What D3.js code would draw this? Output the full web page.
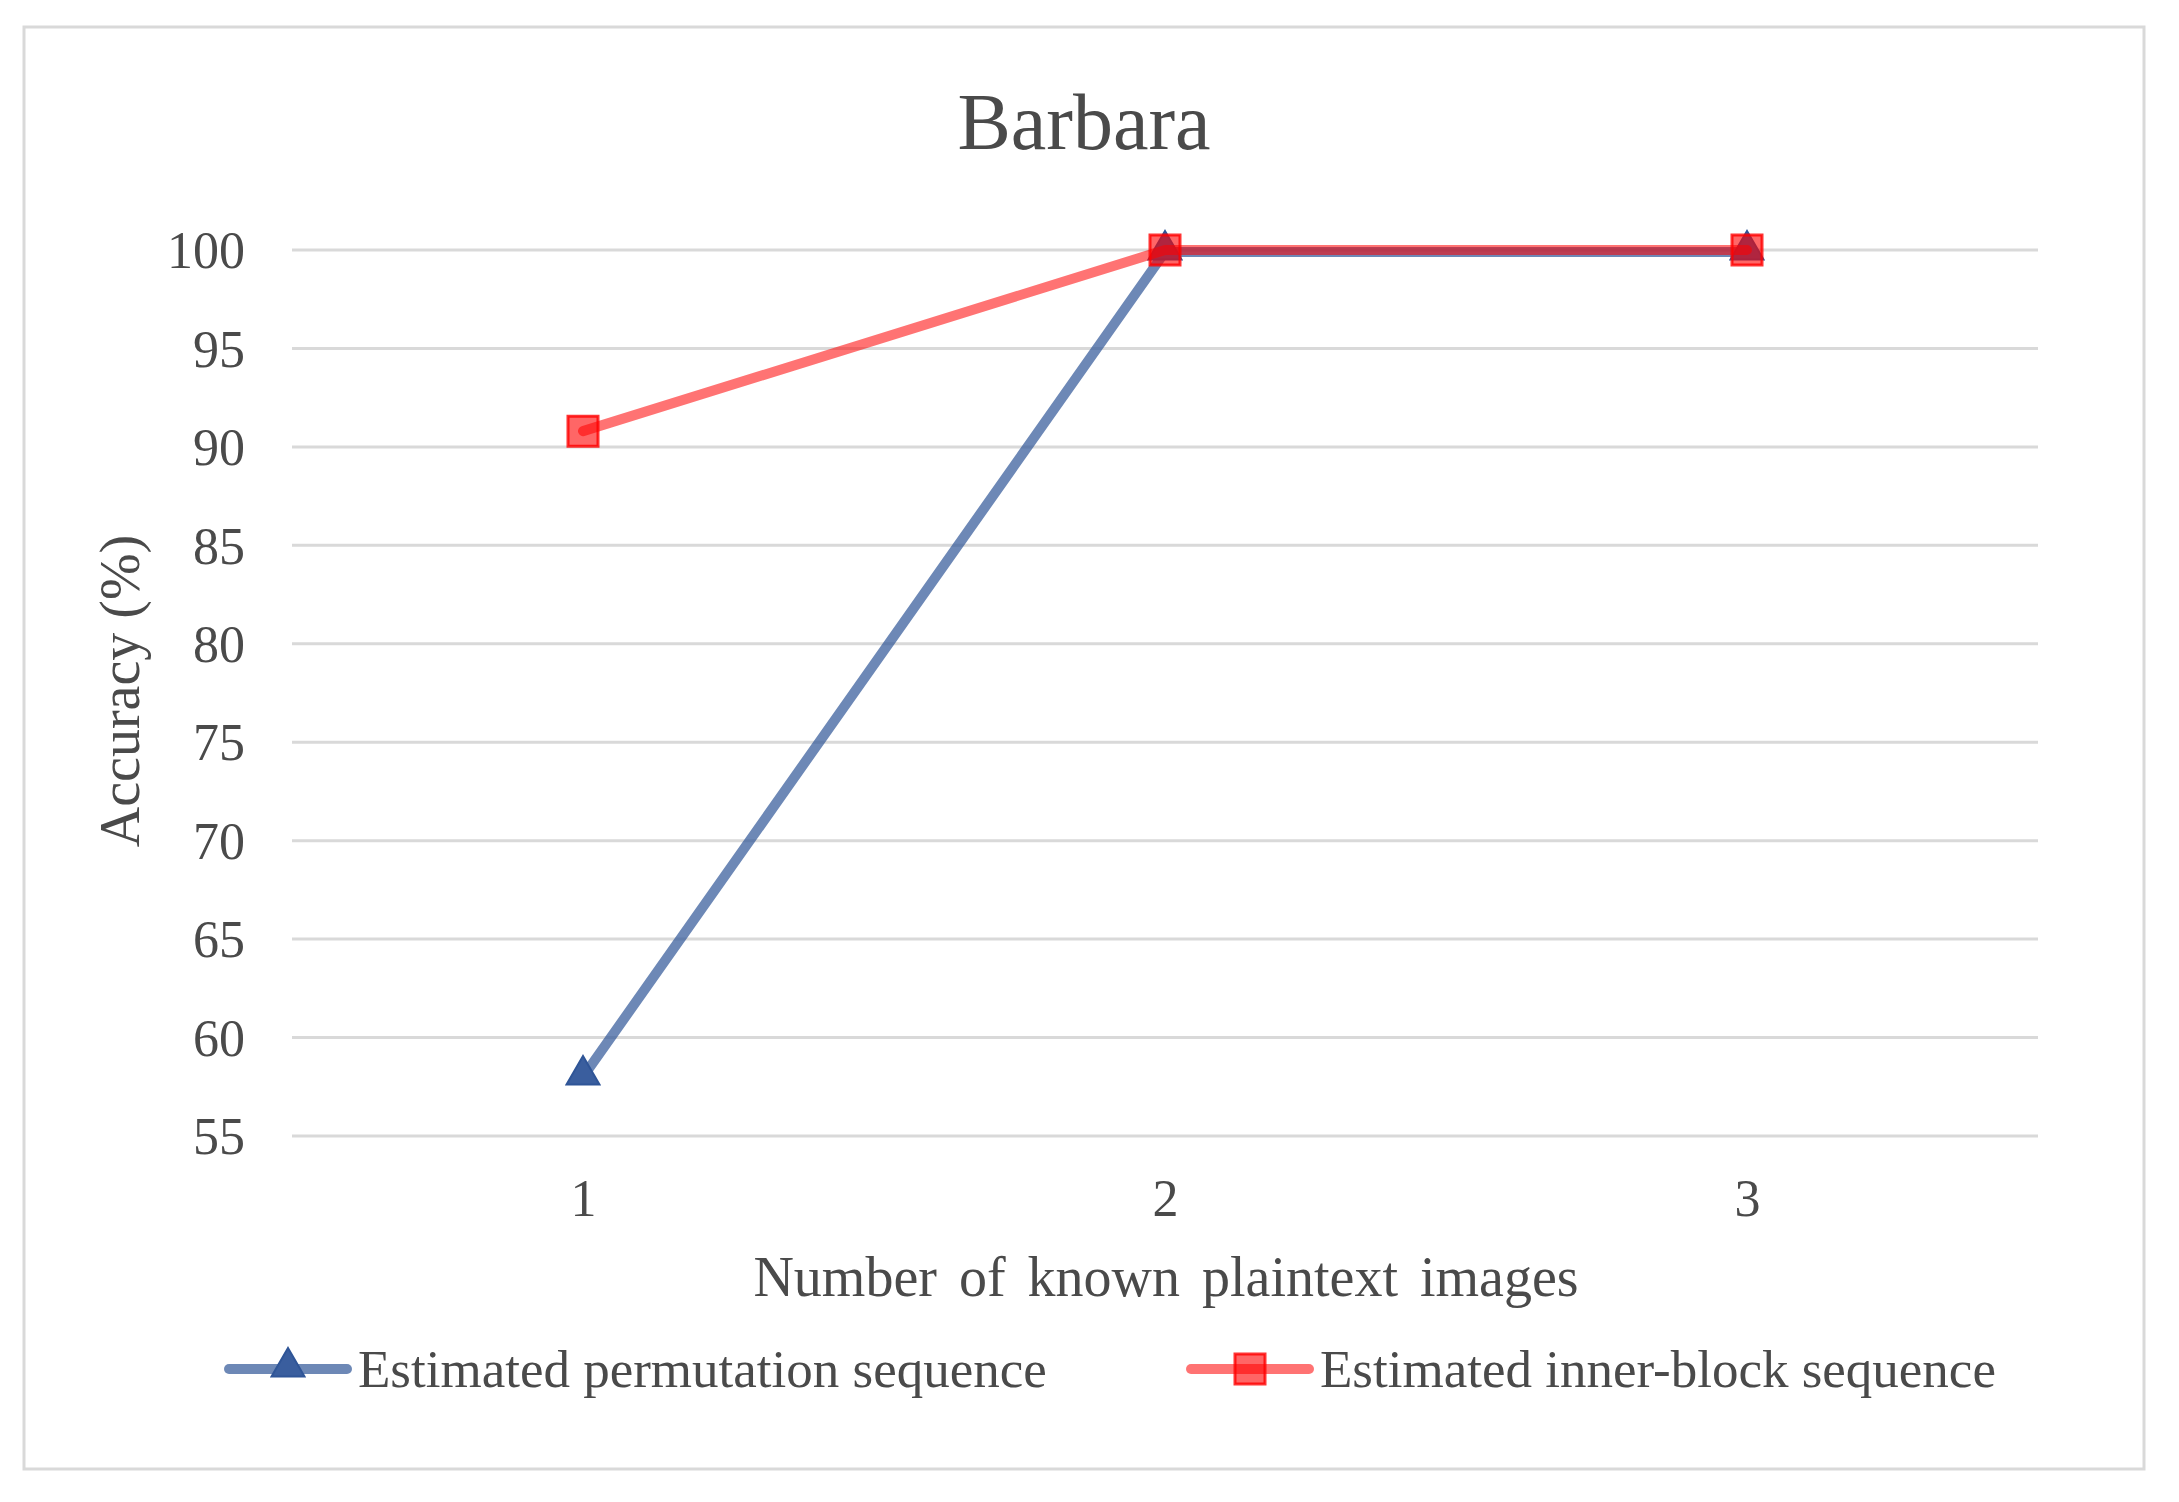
<!DOCTYPE html>
<html>
<head>
<meta charset="utf-8">
<script src="https://cdn.jsdelivr.net/npm/d3@7"></script>
<style>
  body { margin: 0; background: #fff; }
  text { font-family: "Liberation Serif", "Times New Roman", serif; fill: #4a4a4a; }
</style>
</head>
<body>
<svg id="canvas" width="2179" height="1502"></svg>
<script>
// chart data
let categories = [1, 2, 3]
let permutationSeq = [58, 99.9, 99.9]
let innerBlockSeq = [90.8, 100, 100]
let yTicks = [55, 60, 65, 70, 75, 80, 85, 90, 95, 100]
let seriesNames = ["Estimated permutation sequence", "Estimated inner-block sequence"]

let canvas = d3.select("#canvas")

let blueLine = "rgba(47,85,151,0.7)"
let blueMark = "#2f5597"
let redLine = "rgba(255,0,0,0.55)"
let redMark = "rgba(255,0,0,0.6)"
let redEdge = "rgba(255,0,0,0.8)"

// outer frame
canvas.append("rect")
    .attr("x", 24).attr("y", 27)
    .attr("width", 2120).attr("height", 1442)
    .attr("fill", "#fff")
    .attr("stroke", "#d9d9d9")
    .attr("stroke-width", 3)

let xScale = d3.scalePoint()
    .domain(categories)
    .range([292, 2038])
    .padding(0.5)

let yScale = d3.scaleLinear()
    .domain([55, 100])
    .range([1136, 250])

// gridlines
canvas.append("g")
    .selectAll("line")
    .data(yTicks)
    .enter()
    .append("line")
    .attr("x1", 292).attr("x2", 2038)
    .attr("y1", d => yScale(d)).attr("y2", d => yScale(d))
    .attr("stroke", "#d9d9d9")
    .attr("stroke-width", 3)

// y axis
let yAxis = d3.axisLeft(yScale).tickValues(yTicks).tickSize(0).tickPadding(0)
let yG = canvas.append("g")
    .attr("transform", "translate(245,0)")
    .call(yAxis)
yG.select(".domain").remove()
yG.selectAll("text")
    .attr("font-size", 52)
    .attr("font-family", null)
    .attr("fill", null)
    .attr("dy", "0.34em")

// x axis
let xAxis = d3.axisBottom(xScale).tickSize(0).tickPadding(0)
let xG = canvas.append("g")
    .attr("transform", "translate(0,1216)")
    .call(xAxis)
xG.select(".domain").remove()
xG.selectAll("text")
    .attr("font-size", 52)
    .attr("font-family", null)
    .attr("fill", null)
    .attr("dy", 0)

// titles
canvas.append("text")
    .text("Barbara")
    .attr("x", 1084).attr("y", 149)
    .attr("text-anchor", "middle")
    .attr("font-size", 80)

canvas.append("text")
    .text("Number of known plaintext images")
    .attr("x", 1166).attr("y", 1296)
    .attr("text-anchor", "middle")
    .attr("font-size", 56)
    .attr("word-spacing", 8)

canvas.append("text")
    .text("Accuracy (%)")
    .attr("transform", "translate(139,691) rotate(-90)")
    .attr("text-anchor", "middle")
    .attr("font-size", 56)

let line = d3.line()
    .x((d, i) => xScale(categories[i]))
    .y(d => yScale(d))

let triangle = d3.symbol().type(d3.symbolTriangle).size(470)
let square = d3.symbol().type(d3.symbolSquare).size(900)

// permutation series
canvas.append("path")
    .datum(permutationSeq)
    .attr("d", line)
    .attr("fill", "none")
    .attr("stroke", blueLine)
    .attr("stroke-width", 10)
    .attr("stroke-linejoin", "round")
    .attr("stroke-linecap", "round")

canvas.append("g")
    .selectAll("path")
    .data(permutationSeq)
    .enter()
    .append("path")
    .attr("d", triangle)
    .attr("transform", (d, i) => "translate(" + xScale(categories[i]) + "," + (yScale(d) - 2) + ")")
    .attr("fill", "#3a5e9e")
    .attr("stroke", blueMark)
    .attr("stroke-width", 2)

// inner-block series
canvas.append("path")
    .datum(innerBlockSeq)
    .attr("d", line)
    .attr("fill", "none")
    .attr("stroke", redLine)
    .attr("stroke-width", 10)
    .attr("stroke-linejoin", "round")
    .attr("stroke-linecap", "round")

canvas.append("g")
    .selectAll("path")
    .data(innerBlockSeq)
    .enter()
    .append("path")
    .attr("d", square)
    .attr("transform", (d, i) => "translate(" + xScale(categories[i]) + "," + yScale(d) + ")")
    .attr("fill", redMark)
    .attr("stroke", redEdge)
    .attr("stroke-width", 3)

// legend
let legendItems = [
    {name: seriesNames[0], x: 229, lineColor: blueLine, symbol: triangle, fill: "#3a5e9e", stroke: blueMark, sw: 2, dy: -2},
    {name: seriesNames[1], x: 1191, lineColor: redLine, symbol: square, fill: redMark, stroke: redEdge, sw: 3, dy: 0}
]

let legend = canvas.append("g")
    .selectAll("g")
    .data(legendItems)
    .enter()
    .append("g")
    .attr("transform", d => "translate(" + d.x + ",1369)")

legend.append("line")
    .attr("x1", 0).attr("x2", 118)
    .attr("y1", 0).attr("y2", 0)
    .attr("stroke", d => d.lineColor)
    .attr("stroke-width", 10)
    .attr("stroke-linecap", "round")

legend.append("path")
    .attr("d", d => d.symbol())
    .attr("transform", d => "translate(59," + d.dy + ")")
    .attr("fill", d => d.fill)
    .attr("stroke", d => d.stroke)
    .attr("stroke-width", d => d.sw)

legend.append("text")
    .text(d => d.name)
    .attr("x", 129)
    .attr("y", 18)
    .attr("font-size", 53)
</script>
</body>
</html>
